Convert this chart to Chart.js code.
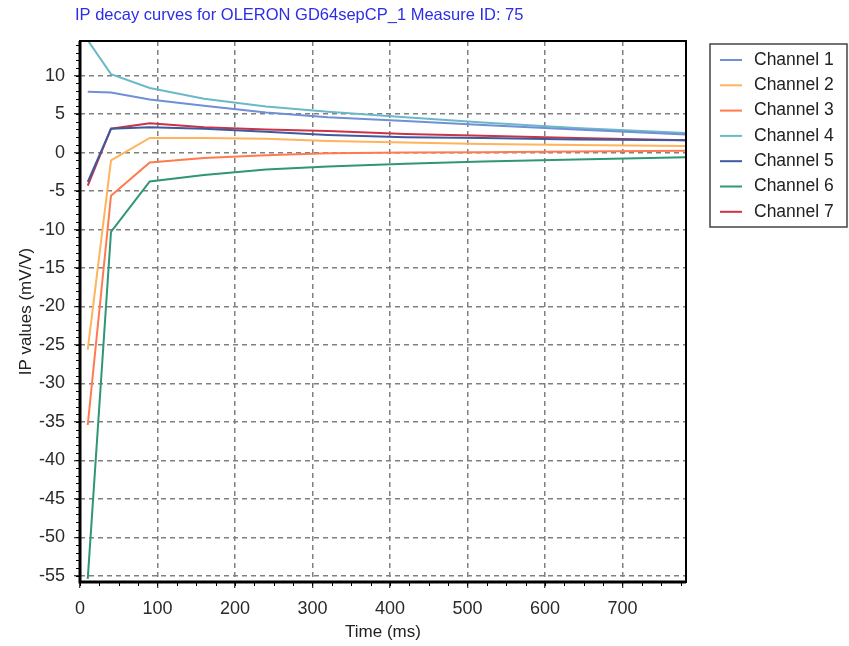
<!DOCTYPE html>
<html>
<head>
<meta charset="utf-8">
<script src="https://cdn.jsdelivr.net/npm/chart.js@4/dist/chart.umd.min.js"></script>
<style>
  html, body { margin: 0; padding: 0; background: #fff; }
  #wrap { width: 849px; height: 646px; }
</style>
</head>
<body>
<div id="wrap"><canvas id="ipChart" width="849" height="646"></canvas></div>
<script>
// time gates (ms) and IP values (mV/V) per channel
const times = [10, 40, 90, 160, 240, 320, 420, 520, 640, 790];
const channel1 = [7.9, 7.8, 6.9, 6.1, 5.2, 4.6, 4.1, 3.6, 3.0, 2.3];
const channel2 = [-25.6, -1.0, 1.9, 1.9, 1.8, 1.5, 1.3, 1.1, 1.0, 0.85];
const channel3 = [-35.4, -5.6, -1.3, -0.7, -0.35, -0.1, 0.0, 0.05, 0.15, 0.25];
const channel4 = [14.6, 10.2, 8.4, 7.0, 6.0, 5.3, 4.6, 3.9, 3.2, 2.5];
const channel5 = [-3.8, 3.1, 3.3, 3.1, 2.7, 2.3, 2.0, 1.9, 1.7, 1.6];
const channel6 = [-55.4, -10.3, -3.75, -2.9, -2.2, -1.8, -1.45, -1.15, -0.9, -0.6];
const channel7 = [-4.3, 3.1, 3.8, 3.3, 3.0, 2.8, 2.4, 2.2, 1.9, 1.6];

const channelNames = ["Channel 1", "Channel 2", "Channel 3", "Channel 4", "Channel 5", "Channel 6", "Channel 7"];
const channelColors = ["#6f8fd6", "#ffb35c", "#ff7b4f", "#6cb8c8", "#3e5a9e", "#2f9676", "#cc3344"];
const channelValues = [channel1, channel2, channel3, channel4, channel5, channel6, channel7];

const FONT = "'Liberation Sans', Arial, sans-serif";

const titlePlugin = {
  id: "leftTitle",
  afterDraw(chart) {
    const ctx = chart.ctx;
    ctx.save();
    ctx.font = "16.5px " + FONT;
    ctx.fillStyle = "#2d2de6";
    ctx.textBaseline = "middle";
    ctx.fillText("IP decay curves for OLERON GD64sepCP_1 Measure ID: 75", chart.chartArea.left - 5, 15);
    ctx.restore();
  }
};

const framePlugin = {
  id: "frame",
  afterDatasetsDraw(chart) {
    const { ctx, chartArea: a } = chart;
    ctx.save();
    ctx.strokeStyle = "#000";
    ctx.lineWidth = 2;
    ctx.strokeRect(a.left, a.top, a.right - a.left, a.bottom - a.top);
    ctx.lineWidth = 3;
    ctx.beginPath();
    ctx.moveTo(a.left, a.top);
    ctx.lineTo(a.left, a.bottom);
    ctx.lineTo(a.right, a.bottom);
    ctx.stroke();
    ctx.restore();
  }
};

const minorTicks = {
  id: "minorTicks",
  afterDraw(chart) {
    const { ctx, chartArea: a, scales: { x, y } } = chart;
    ctx.save();
    ctx.strokeStyle = "#000";
    ctx.lineWidth = 1;
    ctx.beginPath();
    for (let t = 0; t <= x.max; t += 25) {
      const px = Math.round(x.getPixelForValue(t)) + 0.5;
      ctx.moveTo(px, a.bottom);
      ctx.lineTo(px, a.bottom + 4);
    }
    for (let v = Math.ceil(y.min); v <= y.max; v += 1) {
      const py = Math.round(y.getPixelForValue(v)) + 0.5;
      ctx.moveTo(a.left, py);
      ctx.lineTo(a.left - 4, py);
    }
    ctx.stroke();
    ctx.restore();
  }
};

const boxLegend = {
  id: "boxLegend",
  afterDraw(chart) {
    const { ctx, chartArea: a } = chart;
    const left = a.right + 24, top = a.top + 3;
    const rowH = 25.3;
    ctx.save();
    ctx.strokeStyle = "#444";
    ctx.lineWidth = 1.5;
    ctx.strokeRect(left, top, 137, 183);
    ctx.font = "17.5px " + FONT;
    ctx.fillStyle = "#222";
    ctx.textBaseline = "middle";
    chart.data.datasets.forEach((ds, i) => {
      const cy = top + 16 + i * rowH;
      ctx.strokeStyle = ds.borderColor;
      ctx.lineWidth = 2;
      ctx.beginPath();
      ctx.moveTo(left + 10, cy);
      ctx.lineTo(left + 32, cy);
      ctx.stroke();
      ctx.fillText(ds.label, left + 44, cy);
    });
    ctx.restore();
  }
};

const datasets = channelNames.map((name, i) => ({
  label: name,
  data: times.map((t, k) => ({ x: t, y: channelValues[i][k] })),
  borderColor: channelColors[i],
  backgroundColor: channelColors[i],
  borderWidth: 2,
  pointRadius: 0,
  tension: 0,
  fill: false
}));

new Chart(document.getElementById("ipChart"), {
  type: "line",
  data: { datasets },
  plugins: [titlePlugin, framePlugin, minorTicks, boxLegend],
  options: {
    responsive: false,
    animation: false,
    layout: { padding: { top: 41, right: 163, left: 0, bottom: 0 } },
    plugins: {
      legend: { display: false },
      title: { display: false },
      tooltip: { enabled: false }
    },
    scales: {
      x: {
        type: "linear",
        min: 0,
        max: 782,
        afterFit: s => { s.height = 64; },
        ticks: {
          stepSize: 100,
          includeBounds: false,
          padding: 10,
          color: "#2a2a2a",
          font: { family: FONT, size: 18 }
        },
        grid: {
          color: "#808080",
          lineWidth: 1.5,
          tickLength: 6,
          tickColor: "#000",
          tickWidth: 1,
          tickBorderDash: []
        },
        border: { display: false, dash: [5, 4] },
        title: {
          display: true,
          text: "Time (ms)",
          color: "#222",
          font: { family: FONT, size: 17 },
          padding: { top: 0, bottom: 3 }
        }
      },
      y: {
        min: -55.8,
        max: 14.5,
        afterFit: s => { s.width = 80; },
        ticks: {
          stepSize: 5,
          includeBounds: false,
          padding: 9,
          color: "#2a2a2a",
          font: { family: FONT, size: 18 }
        },
        grid: {
          color: "#808080",
          lineWidth: 1.5,
          tickLength: 6,
          tickColor: "#000",
          tickWidth: 1,
          tickBorderDash: []
        },
        border: { display: false, dash: [5, 4] },
        title: {
          display: true,
          text: "IP values (mV/V)",
          color: "#222",
          font: { family: FONT, size: 17 },
          padding: { top: 16, bottom: 0 }
        }
      }
    }
  }
});
</script>
</body>
</html>
